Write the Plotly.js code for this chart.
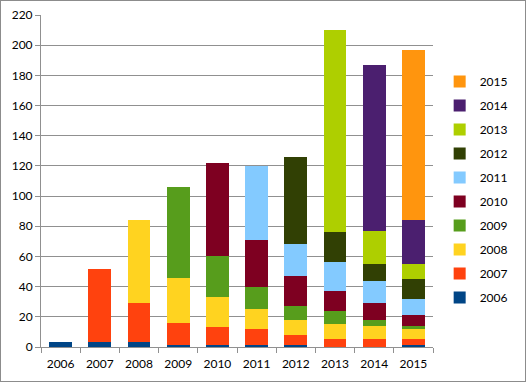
<!DOCTYPE html>
<html>
<head>
<meta charset="utf-8">
<script src="https://cdn.plot.ly/plotly-3.0.1.min.js"></script>
<style>
html,body{margin:0;padding:0;background:#fff;}
#wrap{width:526px;height:382px;box-sizing:border-box;border:1px solid #8c8c8c;overflow:hidden;}
#chart{width:524px;height:380px;}
</style>
</head>
<body>
<div id="wrap"><div id="chart"></div></div>
<script>
const categories = ['2006','2007','2008','2009','2010','2011','2012','2013','2014','2015'];
const seriesNames = ['2006','2007','2008','2009','2010','2011','2012','2013','2014','2015'];
const s2006 = [3, 3, 3, 1, 1, 1, 1, 0, 0, 1];
const s2007 = [0, 49, 26, 15, 12, 11, 7, 5, 5, 4];
const s2008 = [0, 0, 55, 30, 20, 13, 10, 10, 9, 7];
const s2009 = [0, 0, 0, 60, 27, 15, 9, 9, 4, 2];
const s2010 = [0, 0, 0, 0, 62, 31, 20, 13, 11, 7];
const s2011 = [0, 0, 0, 0, 0, 49, 21, 19, 15, 11];
const s2012 = [0, 0, 0, 0, 0, 0, 58, 20, 11, 13];
const s2013 = [0, 0, 0, 0, 0, 0, 0, 134, 22, 10];
const s2014 = [0, 0, 0, 0, 0, 0, 0, 0, 110, 29];
const s2015 = [0, 0, 0, 0, 0, 0, 0, 0, 0, 113];
const seriesValues = [s2006, s2007, s2008, s2009, s2010, s2011, s2012, s2013, s2014, s2015];
const colors = ['#004586','#ff420e','#ffd320','#579d1c','#7e0021','#83caff','#314004','#aecf00','#4b1f6f','#ff950e'];

const traces = seriesNames.map((n, i) => ({
  type: 'bar',
  name: n,
  x: categories,
  y: seriesValues[i],
  marker: {color: colors[i], line: {width: 0}},
  legendgroup: 'g' + i,
  legendrank: 1000 - i * 10,
  hoverinfo: 'x+y+name'
}));

const layout = {
  width: 524, height: 380,
  margin: {l: 40, r: 72, t: 14, b: 34},
  barmode: 'stack',
  bargap: 0.42,
  paper_bgcolor: '#fff',
  plot_bgcolor: '#fff',
  font: {family: 'Lato, "Liberation Sans", sans-serif', size: 12, color: '#000'},
  xaxis: {
    type: 'category',
    showline: true, linecolor: '#909090', linewidth: 1,
    ticks: 'outside', ticklen: 5, tickcolor: '#909090', tickson: 'boundaries',
    ticklabelstandoff: 6,
    showgrid: false, zeroline: false,
    tickfont: {size: 12, color: '#000'}
  },
  yaxis: {
    range: [0, 220], dtick: 20, tick0: 0,
    showline: true, linecolor: '#909090', linewidth: 1,
    ticks: 'outside', ticklen: 5, tickcolor: '#909090',
    showgrid: true, gridcolor: '#909090', gridwidth: 1,
    zeroline: false,
    tickfont: {size: 12, color: '#000'}
  },
  showlegend: true,
  legend: {
    x: 1.017, xanchor: 'left', y: 0.843, yanchor: 'top',
    traceorder: 'grouped', tracegroupgap: 5,
    font: {size: 12, color: '#000'},
    itemwidth: 30,
    bgcolor: 'rgba(0,0,0,0)'
  }
};

Plotly.newPlot('chart', traces, layout, {displayModeBar: false, staticPlot: true});
</script>
</body>
</html>
